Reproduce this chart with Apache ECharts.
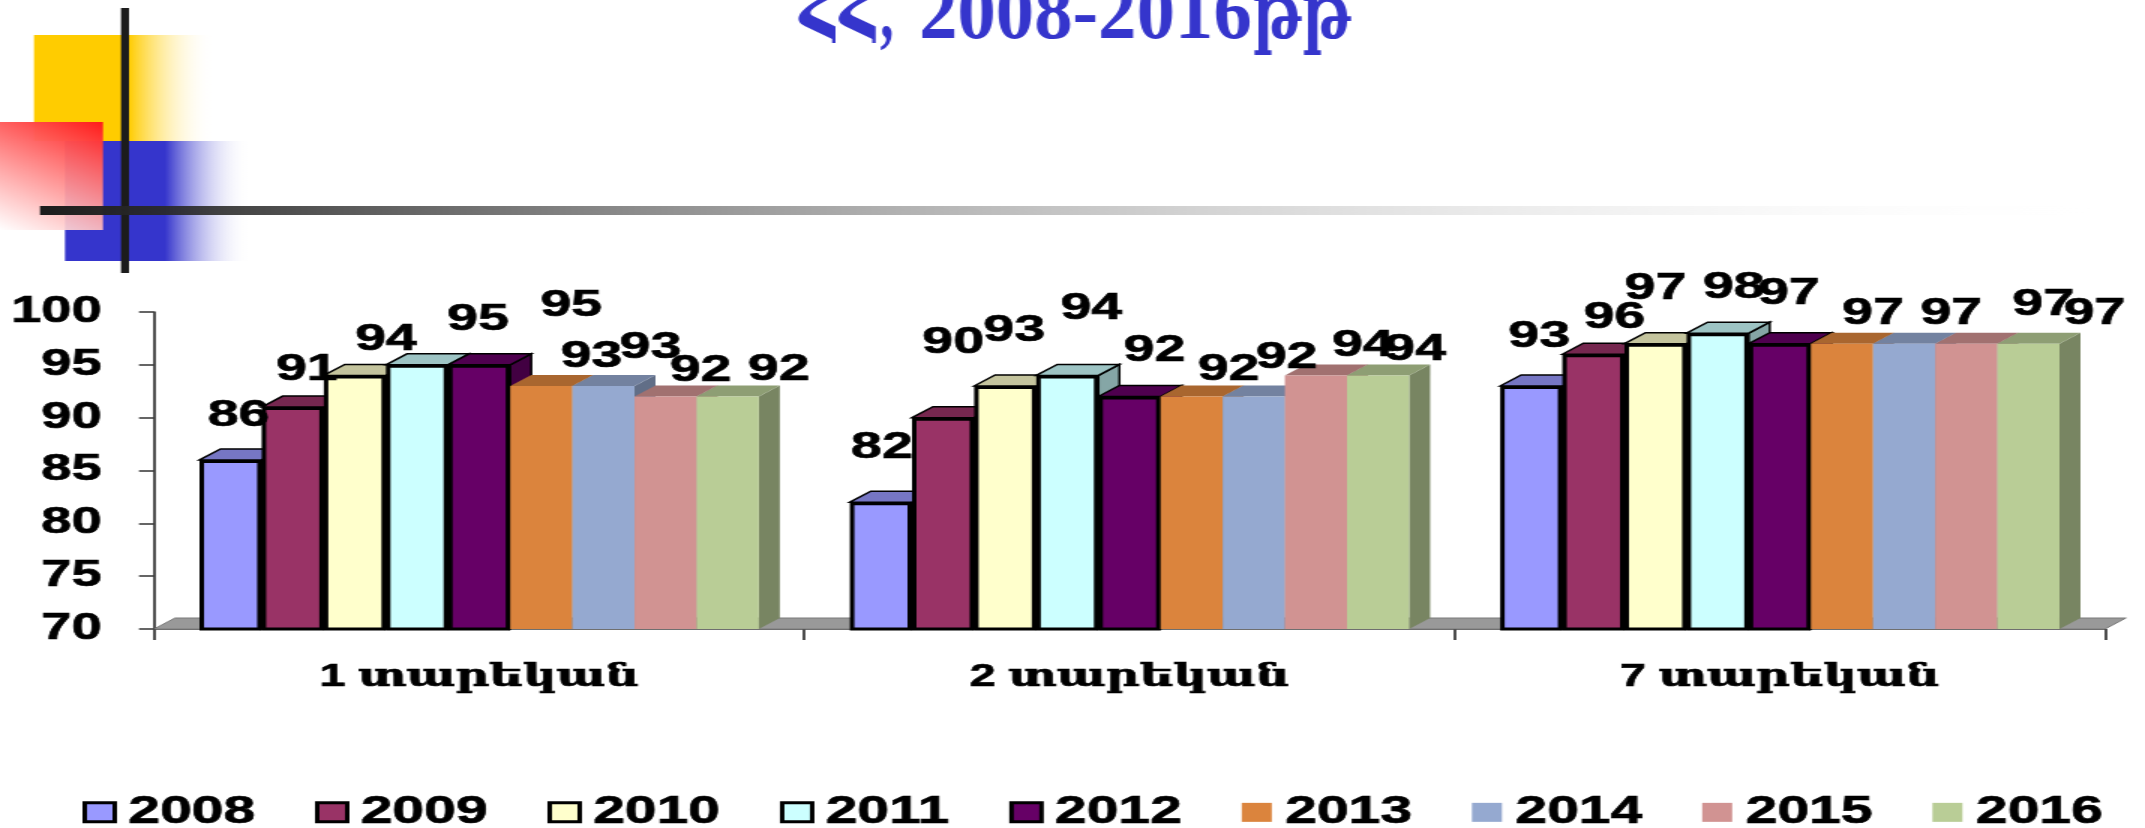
<!DOCTYPE html>
<html>
<head>
<meta charset="utf-8">
<style>
html,body{margin:0;padding:0;background:#fff;overflow:hidden;width:2145px;height:828px}
#chart{width:1430px;height:828px;transform:scaleX(1.5);transform-origin:0 0}
</style>
<script src="https://cdn.jsdelivr.net/npm/echarts@6/dist/echarts.min.js"></script>
</head>
<body>
<div id="chart"></div>
<script>
const categories = ['1 տարեկան', '2 տարեկան', '7 տարեկան'];
const years = ['2008', '2009', '2010', '2011', '2012', '2013', '2014', '2015', '2016'];
const v2008 = [86, 82, 93];
const v2009 = [91, 90, 96];
const v2010 = [94, 93, 97];
const v2011 = [95, 94, 98];
const v2012 = [95, 92, 97];
const v2013 = [93, 92, 97];
const v2014 = [93, 92, 97];
const v2015 = [92, 94, 97];
const v2016 = [92, 94, 97];
const allValues = [v2008, v2009, v2010, v2011, v2012, v2013, v2014, v2015, v2016];
const colors = ['#9999FF', '#993366', '#FFFFCC', '#CCFFFF', '#660066', '#DB843D', '#95A9D0', '#D19392', '#B9CD96'];
const titleParts = ['ՀՀ,', '2008-2016', 'թթ'];
const titlePartLeft = [800, 919, 1252];
const titlePartSqueeze = [0.68, 0.96, 0.68];

// Hand-placed label shifts of the reference, per category then per year: [right, up-from-bar-top] in page px
const labelShift1 = [[8,-45],[14,-38],[31,-37],[61,-46],[92,-60],[50,-30],[47,-39],[35,-27],[51,-28]];
const labelShift2 = [[1,-55],[10,-76],[9,-56],[24,-68],[25,-47],[37,-28],[33,-40],[47,-31],[37,-27]];
const labelShift3 = [[8,-50],[21,-37],[0,-56],[16,-46],[9,-51],[31,-31],[47,-31],[77,-40],[66,-31]];
const labelShifts = [labelShift1, labelShift2, labelShift3];

const S = 1.5;              // the slide is stretched horizontally
const borderedYears = 5;    // the first five series carry a black outline
const depthX = 14, depthY = 11;
const labelFont = 37;
const sansFont = '"Liberation Sans","DejaVu Serif",sans-serif';
const barOpts = { barGap: 0, barCategoryGap: '14%' };
const heavy = { textBorderColor: '#000', textBorderWidth: 0.7 };

function shade(hex, f) {
  const n = parseInt(hex.slice(1), 16);
  const c = [(n >> 16) & 255, (n >> 8) & 255, n & 255].map(v => Math.round(v * f));
  return 'rgb(' + c.join(',') + ')';
}

const chart = echarts.init(document.getElementById('chart'));
const G = echarts.graphic;
const fade = (from, stop) => new G.LinearGradient(0, 0, 1, 0, [
  { offset: 0, color: from }, { offset: stop, color: from }, { offset: 1, color: 'rgba(255,255,255,0)' }
]);

const barSeries = years.map((y, k) => ({
  type: 'bar', name: y, z: 3, ...barOpts,
  itemStyle: k < borderedYears
    ? { color: colors[k], borderColor: '#000', borderWidth: 3 }
    : { color: colors[k], borderWidth: 0 },
  data: allValues[k].map((v, c) => ({
    value: v,
    label: { offset: [labelShifts[c][k][0] / S, labelShifts[c][k][1] + labelFont / 2 + 1] }
  })),
  label: {
    show: true, position: 'top', distance: 0, color: '#000', fontSize: labelFont,
    fontWeight: 'bold', fontFamily: sansFont, verticalAlign: 'bottom', lineHeight: labelFont, ...heavy
  }
}));

const depthRows = [];
categories.forEach((_, c) => years.forEach((_, k) => depthRows.push([c, allValues[k][c], k])));

const depthSeries = {
  type: 'custom', name: 'depth', z: 2, silent: true,
  encode: { x: 0, y: 1 }, data: depthRows,
  renderItem: function (params, api) {
    const c = api.value(0), v = api.value(1), k = api.value(2);
    const layout = api.barLayout({ barGap: 0, barCategoryGap: '14%', count: years.length })[k];
    const top = api.coord([c, v]);
    const base = api.coord([c, 70]);
    const x0 = top[0] + layout.offset, x1 = x0 + layout.width;
    const y0 = top[1], yb = base[1];
    const stroke = k < borderedYears ? { stroke: '#000', lineWidth: 1.5 } : {};
    return {
      type: 'group',
      children: [
        { type: 'polygon', shape: { points: [[x1, yb], [x1 + depthX, yb - depthY], [x1 + depthX, y0 - depthY], [x1, y0]] },
          style: { fill: shade(colors[k], 0.65), ...stroke } },
        { type: 'polygon', shape: { points: [[x0, y0], [x0 + depthX, y0 - depthY], [x1 + depthX, y0 - depthY], [x1, y0]] },
          style: { fill: shade(colors[k], 0.77), ...stroke } }
      ]
    };
  }
};

const floorSeries = {
  type: 'custom', name: 'floor', z: 1, silent: true,
  encode: { x: 0, y: 1 }, data: [[0, 70]],
  renderItem: function (params, api) {
    const band = api.size([1, 0])[0];
    const a = api.coord([0, 70]), b = api.coord([categories.length - 1, 70]);
    const x0 = a[0] - band / 2, x1 = b[0] + band / 2, y = a[1];
    return { type: 'polygon',
      shape: { points: [[x0, y], [x0 + depthX, y - depthY], [x1 + depthX, y - depthY], [x1, y]] },
      style: { fill: '#999999', stroke: '#7a7a7a', lineWidth: 1 } };
  }
};

const titleTexts = titleParts.map((t, i) => ({
  type: 'text', z: 14, x: titlePartLeft[i] / S, y: 57, scaleX: titlePartSqueeze[i] / S,
  style: { text: t, x: 0, y: 0, align: 'left', verticalAlign: 'bottom', fill: '#3535CC',
           font: 'bold 80px "Liberation Serif","DejaVu Serif",serif' }
}));

chart.setOption({
  animation: false,
  backgroundColor: '#fff',
  grid: { left: 154 / S, right: (2145 - 2105) / S, top: 312, bottom: 828 - 629 },
  legend: {
    left: 75 / S, top: 788, itemWidth: 20, itemHeight: 19, itemGap: 39.6, icon: 'rect',
    data: years, selectedMode: false,
    itemStyle: { borderWidth: 'inherit' },
    textStyle: { color: '#000', fontSize: 38, fontWeight: 'bold', fontFamily: sansFont, padding: [2, 0, 0, 4], ...heavy }
  },
  xAxis: {
    type: 'category', data: categories, boundaryGap: true,
    axisLine: { lineStyle: { color: '#333', width: 1.5 } },
    axisTick: { show: true, length: 11, alignWithLabel: false, lineStyle: { color: '#222', width: 1.6 } },
    axisLabel: { color: '#000', fontSize: 31, fontWeight: 'bold', fontFamily: sansFont, margin: 33, ...heavy },
    splitLine: { show: false }
  },
  yAxis: {
    type: 'value', min: 70, max: 100, interval: 5,
    axisLine: { show: true, lineStyle: { color: '#333', width: 1.7 } },
    axisTick: { show: true, length: 10, lineStyle: { color: '#333', width: 1.5 } },
    axisLabel: { color: '#000', fontSize: 36, fontWeight: 'bold', fontFamily: sansFont, margin: 35, padding: [2, 0, 0, 0], ...heavy },
    splitLine: { show: false }
  },
  series: [floorSeries, depthSeries].concat(barSeries),
  graphic: [
    { type: 'rect', z: 10, shape: { x: 34 / S, y: 35, width: 179 / S, height: 106 }, style: { fill: fade('#FFCC00', 0.53) } },
    { type: 'rect', z: 11, shape: { x: 65 / S, y: 141, width: 185 / S, height: 120 }, style: { fill: fade('#3535CC', 0.54) } },
    { type: 'rect', z: 12, shape: { x: 0, y: 122, width: 103 / S, height: 108 },
      style: { fill: new G.LinearGradient(1, 0, 0, 1, [{ offset: 0, color: '#FF1A1A' }, { offset: 1, color: 'rgba(255,255,255,0.9)' }]) } },
    { type: 'rect', z: 13, shape: { x: 121 / S, y: 8, width: 8 / S, height: 265 }, style: { fill: '#1C1C1C' } },
    { type: 'rect', z: 13, shape: { x: 40 / S, y: 206, width: 2070 / S, height: 9 },
      style: { fill: new G.LinearGradient(0, 0, 1, 0, [{ offset: 0, color: '#1C1C1C' }, { offset: 1, color: 'rgba(255,255,255,0)' }]) } }
  ].concat(titleTexts)
});
</script>
</body>
</html>
